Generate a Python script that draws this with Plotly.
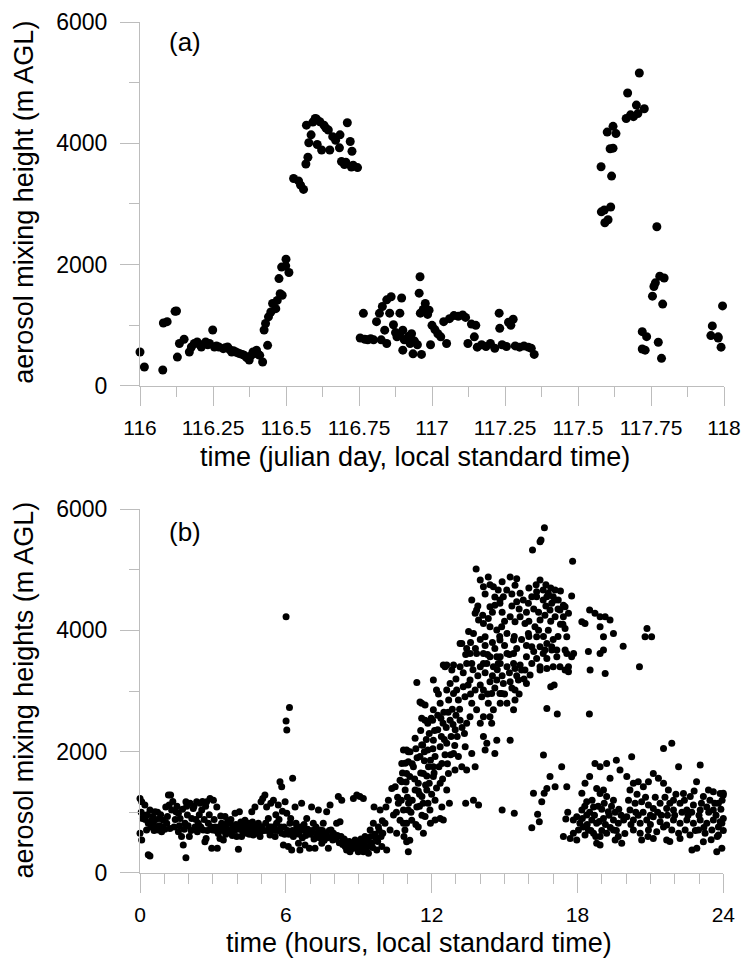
import plotly.graph_objects as go

# ---------------- panel (a): julian day vs aerosol mixing height ----------------
a_day116 = [
    (116.000, 560), (116.015, 313), (116.078, 264), (116.080, 1038), (116.093, 1060),
    (116.120, 1230), (116.125, 1236), (116.128, 476), (116.135, 700), (116.151, 770),
    (116.169, 560), (116.176, 643), (116.186, 700), (116.196, 725), (116.205, 680),
    (116.210, 643), (116.225, 725), (116.232, 680), (116.238, 700), (116.249, 923),
    (116.255, 643), (116.262, 660), (116.270, 643), (116.285, 615), (116.292, 630),
    (116.300, 643), (116.307, 600), (116.314, 560), (116.320, 580), (116.328, 560),
    (116.335, 545), (116.342, 533), (116.350, 520), (116.357, 505), (116.365, 470),
    (116.374, 428), (116.380, 500), (116.387, 560), (116.393, 540), (116.399, 590),
    (116.405, 520), (116.410, 505), (116.420, 395), (116.425, 923), (116.430, 1030),
    (116.437, 670), (116.440, 1140), (116.448, 1220), (116.454, 1360), (116.465, 1275),
    (116.470, 1410), (116.476, 1770), (116.480, 1520), (116.485, 1960), (116.487, 1495),
    (116.499, 1980), (116.500, 2090), (116.510, 1870),
    (116.526, 3420), (116.543, 3380), (116.550, 3310), (116.560, 3240), (116.568, 3660),
    (116.575, 3770), (116.578, 4010), (116.570, 4300), (116.586, 4140), (116.592, 4350),
    (116.600, 4410), (116.605, 4400), (116.607, 3980), (116.616, 4356), (116.622, 3890),
    (116.630, 4300), (116.637, 4250), (116.645, 4220), (116.650, 3890), (116.660, 4110),
    (116.670, 4050), (116.683, 3925), (116.685, 4140), (116.690, 3700), (116.700, 3650),
    (116.705, 3690), (116.710, 4340), (116.720, 4030), (116.724, 3610), (116.726, 3870),
    (116.730, 3640), (116.745, 3600),
    (116.754, 790), (116.765, 1197), (116.770, 770), (116.780, 760), (116.790, 780),
    (116.800, 760), (116.810, 1060), (116.820, 1197), (116.826, 760), (116.830, 1310),
    (116.838, 920), (116.845, 1420), (116.845, 700), (116.855, 1200), (116.860, 1470),
    (116.868, 1010), (116.875, 880), (116.880, 810), (116.890, 860), (116.890, 1200),
    (116.896, 1450), (116.900, 920), (116.900, 590), (116.905, 760), (116.913, 770),
    (116.920, 820), (116.925, 700), (116.930, 860), (116.935, 530), (116.940, 740),
    (116.950, 680), (116.956, 1530), (116.959, 1800), (116.964, 520), (116.960, 1200),
    (116.970, 1260), (116.977, 1360), (116.985, 1180), (116.990, 1250), (116.995, 680),
]
a_day117 = [
    (117.000, 1000), (117.010, 930), (117.020, 860), (117.030, 810), (117.040, 1060),
    (117.050, 700), (117.060, 1110), (117.075, 1160), (117.090, 1150), (117.105, 1170),
    (117.115, 1130), (117.123, 700), (117.135, 1020), (117.145, 810), (117.150, 1000),
    (117.155, 640), (117.170, 680), (117.185, 650), (117.200, 700), (117.215, 620),
    (117.230, 1200), (117.232, 950), (117.240, 680), (117.255, 650), (117.262, 1050),
    (117.270, 1000), (117.278, 1100), (117.285, 660), (117.300, 640), (117.315, 660),
    (117.330, 640), (117.340, 620), (117.350, 520),
    (117.579, 3614), (117.580, 2870), (117.590, 2900), (117.592, 2690), (117.603, 2740),
    (117.600, 4185), (117.610, 3910), (117.612, 2950), (117.615, 3460), (117.620, 3920),
    (117.620, 4280), (117.630, 4160), (117.665, 4410), (117.670, 4830), (117.680, 4470),
    (117.690, 4440), (117.700, 4630), (117.705, 4490), (117.710, 5160), (117.727, 4570),
    (117.720, 895), (117.735, 813), (117.720, 610), (117.730, 590), (117.755, 1480),
    (117.760, 1640), (117.765, 1700), (117.770, 2625), (117.775, 720), (117.780, 1810),
    (117.786, 456), (117.790, 1350), (117.795, 1780),
    (117.955, 830), (117.960, 990), (117.980, 790), (117.980, 810), (117.990, 640),
    (117.995, 1320),
]

# ---------------- panel (b): hour of day vs aerosol mixing heights ----------------
b_night = [
    (0.00, 1230), (0.07, 1175), (0.00, 655), (0.07, 545), (0.10, 900), (0.20, 1120),
    (0.27, 710), (0.34, 820), (0.34, 300), (0.41, 280), (0.41, 1040), (0.48, 870),
    (0.55, 820), (0.62, 1010), (0.69, 760), (0.75, 710), (0.82, 900), (0.89, 680),
    (0.96, 870), (1.06, 1090), (1.17, 1285), (1.26, 1285), (1.10, 820), (1.23, 735),
    (1.30, 1040), (1.40, 760), (1.48, 1010), (1.58, 985), (1.58, 680), (1.65, 900),
    (1.71, 600), (1.78, 460), (1.85, 820), (1.89, 1175), (1.89, 253), (1.95, 955),
    (2.06, 1150), (2.03, 600), (2.13, 900), (2.19, 1065), (2.26, 760), (2.33, 1175),
    (2.40, 820), (2.47, 1150), (2.54, 1040), (2.60, 710), (2.67, 516), (2.72, 570),
    (2.74, 1175), (2.81, 820), (2.88, 1230), (2.95, 406), (2.99, 710),
    (3.02, 1200), (3.09, 760), (3.16, 1090), (3.18, 406), (3.22, 650), (3.29, 570),
    (3.36, 820), (3.43, 545), (3.50, 930), (3.57, 735), (3.63, 710), (3.70, 820),
    (3.77, 655), (3.84, 760), (3.91, 985), (3.98, 600),
    (4.05, 390), (4.09, 1010), (4.12, 760), (4.18, 600), (4.25, 710), (4.32, 870),
    (4.39, 655), (4.46, 820), (4.53, 710), (4.60, 1010), (4.66, 625), (4.73, 1090),
    (4.80, 655), (4.87, 820), (4.94, 600), (4.98, 1175),
    (5.05, 1230), (5.14, 1285), (5.21, 1090), (5.28, 900), (5.35, 625), (5.42, 760),
    (5.49, 1200), (5.56, 600), (5.62, 820), (5.69, 1120), (5.76, 1505), (5.83, 1420),
    (5.83, 655), (5.90, 460), (5.93, 760), (5.97, 1175),
    (6.01, 4224), (6.01, 2505), (6.04, 2356), (6.15, 2730), (6.28, 1560), (6.04, 985),
    (6.10, 435), (6.17, 820), (6.24, 380), (6.31, 600), (6.38, 1090), (6.45, 760),
    (6.52, 490), (6.58, 380), (6.65, 1150), (6.72, 710), (6.79, 460), (6.86, 900),
    (6.93, 655), (6.97, 406),
    (7.06, 1090), (7.13, 820), (7.20, 406), (7.27, 600), (7.34, 1040), (7.41, 710),
    (7.48, 490), (7.54, 820), (7.61, 600), (7.68, 1010), (7.75, 406), (7.82, 1120),
    (7.86, 710), (7.93, 545), (7.96, 655),
    (8.09, 820), (8.16, 1260), (8.23, 845), (8.30, 1200), (8.37, 545), (8.44, 435),
    (8.50, 380), (8.57, 490), (8.64, 350), (8.71, 460), (8.78, 406), (8.85, 545),
    (8.92, 1285), (8.98, 350), (8.78, 1230), (9.05, 1260), (9.19, 1230),
    (9.05, 380), (9.12, 490), (9.19, 350), (9.26, 600), (9.33, 435), (9.40, 325),
    (9.47, 710), (9.53, 490), (9.60, 820), (9.63, 1090), (9.71, 570), (9.74, 380),
    (9.81, 760), (9.88, 1040), (9.95, 435), (9.99, 655),
    (0.05, 1000), (0.15, 950), (0.22, 880), (0.30, 960), (0.45, 760), (0.52, 930),
    (0.58, 700), (0.65, 880), (0.72, 1000), (0.80, 780), (0.85, 960), (0.93, 760),
    (1.02, 720), (1.13, 930), (1.20, 1120), (1.35, 1180), (1.45, 880), (1.52, 1100),
    (1.62, 780), (1.75, 1050), (1.82, 720), (1.92, 1100), (1.98, 780),
    (2.10, 700), (2.22, 1100), (2.30, 880), (2.36, 680), (2.44, 960), (2.50, 760),
    (2.57, 1180), (2.64, 880), (2.70, 1100), (2.77, 700), (2.85, 960), (2.92, 760),
    (3.05, 880), (3.12, 700), (3.25, 760), (3.32, 940), (3.40, 700), (3.46, 780),
    (3.53, 640), (3.60, 840), (3.67, 700), (3.74, 880), (3.80, 620), (3.88, 700),
    (3.95, 800), (4.02, 720), (4.15, 840), (4.22, 680), (4.28, 780), (4.35, 720),
    (4.42, 760), (4.50, 640), (4.56, 760), (4.63, 840), (4.70, 700), (4.76, 760),
    (4.84, 700), (4.90, 760), (4.96, 680), (5.02, 760), (5.10, 700), (5.17, 820),
    (5.24, 700), (5.32, 760), (5.38, 1150), (5.45, 700), (5.52, 760), (5.59, 960),
    (5.66, 700), (5.72, 880), (5.79, 760), (5.86, 1020), (5.95, 640),
    (6.07, 700), (6.13, 640), (6.20, 900), (6.27, 700), (6.35, 640), (6.42, 820),
    (6.48, 680), (6.55, 640), (6.62, 760), (6.68, 580), (6.75, 800), (6.82, 620),
    (6.90, 720), (7.02, 640), (7.09, 700), (7.16, 560), (7.24, 760), (7.30, 660),
    (7.38, 580), (7.44, 640), (7.51, 700), (7.58, 540), (7.65, 640), (7.72, 580),
    (7.79, 700), (7.89, 600), (7.99, 580), (8.05, 560), (8.12, 620), (8.20, 500),
    (8.27, 600), (8.34, 470), (8.40, 560), (8.47, 520), (8.54, 420), (8.61, 520),
    (8.68, 400), (8.75, 500), (8.82, 440), (8.88, 520), (8.95, 420), (9.02, 450),
    (9.09, 560), (9.16, 420), (9.22, 520), (9.30, 400), (9.36, 540), (9.44, 440),
    (9.50, 600), (9.57, 420), (9.66, 640), (9.78, 520), (9.84, 700), (9.92, 600),
    (9.97, 860),
]
b_morning = [
    (10.08, 820), (10.12, 1090), (10.15, 380), (10.22, 1200), (10.29, 710), (10.36, 1395),
    (10.43, 955), (10.50, 1420), (10.56, 655), (10.63, 1150), (10.70, 870), (10.77, 1505),
    (10.84, 1040), (10.91, 1810), (10.97, 516), (11.04, 350), (10.97, 820), (11.04, 1835),
    (10.91, 1370), (10.86, 600), (10.90, 710), (11.10, 540), (10.70, 1530), (10.84, 2027),
    (11.04, 2000), (10.77, 1807), (11.10, 1590), (11.25, 1750), (11.32, 1370), (11.39, 1090),
    (11.45, 1480), (11.52, 1920), (11.60, 1260), (11.66, 1640), (11.73, 930), (11.80, 1370),
    (11.87, 1750), (11.93, 1040), (11.63, 2110), (10.84, 820), (11.04, 1040), (11.18, 870),
    (11.45, 760), (11.66, 655), (10.97, 1640), (11.90, 1480), (11.95, 820),
    (11.39, 3140), (11.52, 2820), (11.73, 2770), (11.59, 2550), (11.73, 2520), (11.32, 2220),
    (11.59, 2110), (10.97, 2027), (11.11, 2000),
    (12.07, 3180), (12.20, 3015), (11.59, 2800), (12.07, 2690), (12.35, 2800), (12.62, 3015),
    (12.76, 3125), (12.90, 2960), (12.55, 3400), (12.83, 3345), (13.03, 3015), (11.84, 2470),
    (12.04, 2520), (12.25, 2360), (12.47, 2470), (12.76, 2520), (12.97, 2360), (12.07, 2190),
    (12.35, 2080), (12.62, 2140), (12.90, 1970), (13.10, 1920), (12.14, 1920), (12.42, 1807),
    (12.69, 1640), (12.96, 1700), (13.24, 1750), (12.07, 1590), (12.35, 1480), (12.62, 1370),
    (12.14, 1200), (12.42, 1090), (12.73, 1150), (12.35, 900), (12.48, 873), (12.14, 873),
    (12.07, 1750), (11.84, 2027), (11.95, 1860), (13.44, 1700), (13.79, 1750), (13.40, 1150),
    (13.72, 1200), (13.93, 1120), (13.38, 2080), (13.65, 1970), (14.13, 2250), (14.27, 2140),
    (14.68, 2190), (15.23, 2190), (14.60, 1970), (14.20, 2027), (14.90, 1040), (15.40, 985),
    (11.20, 1200), (11.30, 1550), (11.40, 1900), (11.50, 1100), (11.55, 1650), (11.70, 2000),
    (11.75, 1450), (11.85, 1150), (11.90, 2300), (12.00, 1300), (12.05, 2050), (12.10, 1650),
    (12.20, 1400), (12.25, 2600), (12.30, 1750), (12.40, 2250), (12.45, 1550), (12.50, 2650),
    (12.55, 1950), (12.60, 2400), (12.65, 1800), (12.70, 2850), (12.80, 2250), (12.85, 2700),
    (12.95, 2100), (13.00, 2600), (11.00, 1250), (11.15, 1000), (11.35, 800), (11.50, 1300),
    (11.60, 950), (11.65, 1150), (11.80, 1600), (10.60, 1250), (10.55, 1000), (10.75, 1200),
    (10.80, 1650), (10.95, 1500), (11.05, 1150), (11.20, 1800), (11.35, 2050), (11.45, 1350),
    (11.55, 2350), (11.70, 1850), (11.78, 2200), (11.98, 2550), (12.12, 2350), (12.28, 2950),
    (12.38, 2550), (12.52, 2200), (12.68, 2650), (12.78, 1950), (12.88, 2450), (13.05, 2250),
    (13.15, 2700), (13.25, 2400), (13.35, 2300),
]
b_afternoon = [
    (13.17, 2520), (13.44, 2470), (13.58, 2575), (13.85, 2690), (14.00, 2470), (14.13, 2575),
    (14.40, 2575), (14.54, 2690), (14.47, 2470), (14.82, 2800), (14.88, 2960), (15.10, 2800),
    (15.37, 2690), (15.43, 2850), (13.37, 2905), (13.65, 2800), (14.06, 2905), (14.33, 2800),
    (14.47, 2960), (14.81, 2960), (13.30, 3070), (13.58, 3180), (13.79, 3015), (14.13, 3015),
    (14.40, 3153), (14.68, 3180), (14.95, 3125), (15.23, 3153), (15.57, 3180), (15.90, 3125),
    (15.70, 3345), (15.43, 3373), (15.84, 3345), (12.48, 3428), (12.62, 3428), (12.90, 3428),
    (13.17, 3400), (13.44, 3455), (13.65, 3455), (14.00, 3400), (14.27, 3455), (14.54, 3400),
    (14.82, 3455), (15.10, 3400), (15.37, 3455), (15.64, 3428), (16.12, 3455), (16.46, 3400),
    (16.74, 3373), (17.00, 3400), (17.28, 3400), (17.49, 3345), (17.63, 3400), (16.46, 3345),
    (16.05, 3263), (16.90, 3070), (17.04, 3100), (15.43, 3015), (16.32, 3537), (16.74, 3537),
    (17.15, 3565), (17.56, 3620), (17.76, 3565), (17.63, 3318), (16.94, 3675), (16.66, 3675),
    (16.59, 3620), (13.24, 3785), (13.44, 3700), (13.58, 3620), (13.85, 3620), (14.13, 3455),
    (14.82, 3565), (15.10, 3620), (15.37, 3620), (14.13, 3620), (14.40, 3565), (14.68, 3565),
    (14.74, 3455), (15.90, 3565), (16.12, 3730), (16.32, 3895), (16.46, 3730), (16.74, 3785),
    (16.94, 3730), (17.15, 3675), (17.49, 3675), (17.84, 3620),
    (13.65, 4500), (13.85, 4335), (13.79, 4280), (13.93, 4170), (14.13, 4115), (14.33, 4195),
    (14.40, 4060), (14.68, 4005), (14.88, 4060), (14.81, 3840), (15.10, 3950), (15.37, 3840),
    (15.23, 4225), (15.43, 4140), (15.64, 4225), (15.84, 4115), (15.98, 3950), (16.25, 4060),
    (16.46, 4170), (16.66, 4250), (16.87, 4335), (17.08, 4225), (17.42, 4225), (17.49, 4030),
    (17.56, 3895), (13.72, 3950), (13.52, 3980), (13.17, 3785), (14.20, 3895), (14.40, 4390),
    (14.60, 4415), (14.81, 4445), (15.50, 4470), (15.77, 4500), (15.98, 4445), (16.12, 4555),
    (16.32, 4555), (16.59, 4500), (16.74, 4555), (16.94, 4445), (17.08, 4500), (17.28, 4335),
    (17.42, 4415), (17.63, 4280), (14.00, 4830), (14.13, 4720), (14.33, 4880), (14.54, 4720),
    (14.74, 4665), (14.81, 4500), (15.09, 4665), (14.95, 4555), (15.23, 4880), (15.43, 4745),
    (15.64, 4610), (16.46, 4830), (16.32, 4635), (16.59, 4665), (16.80, 4610), (17.00, 4555),
    (17.21, 4500), (17.08, 4665), (17.49, 4390), (17.76, 4565), (13.83, 5010), (16.64, 5690),
    (16.46, 5460), (16.50, 5490), (16.15, 5323), (17.80, 5141),
    (18.18, 4140), (18.31, 4115), (18.50, 4335), (18.72, 4280), (18.93, 4225), (19.14, 4225),
    (19.34, 4170), (18.93, 4060), (19.07, 3895), (19.48, 3950), (18.45, 3650), (18.93, 3620),
    (19.07, 3675), (19.88, 3740), (20.55, 3400), (18.52, 3345), (19.14, 3290), (20.86, 4030),
    (20.78, 3895), (21.05, 3895), (16.74, 2713), (17.17, 2620), (18.49, 2620),
    (13.00, 3200), (13.10, 2850), (13.30, 3300), (13.50, 3100), (13.60, 2950), (13.70, 3350),
    (13.90, 3250), (14.00, 3100), (14.20, 3300), (14.30, 2950), (14.50, 3250), (14.60, 3050),
    (14.70, 3350), (14.90, 3250), (15.00, 2950), (15.20, 3300), (15.30, 3050), (15.50, 3250),
    (15.60, 2950), (15.80, 3200), (13.40, 3600), (13.60, 3800), (13.80, 3700), (14.00, 3850),
    (14.20, 3750), (14.30, 3600), (14.50, 3800), (14.60, 3700), (14.80, 3900), (15.00, 3750),
    (15.20, 3600), (15.40, 3900), (15.50, 3700), (15.70, 3850), (15.90, 3750), (16.00, 3900),
    (16.20, 3650), (16.40, 4000), (16.60, 3900), (16.80, 4000), (17.00, 3850), (17.20, 3900),
    (17.30, 4100), (13.90, 4400), (14.10, 4250), (14.20, 4600), (14.50, 4300), (14.60, 4550),
    (14.90, 4300), (15.00, 4150), (15.30, 4400), (15.60, 4350), (15.90, 4300), (16.00, 4150),
    (16.20, 4350), (16.40, 4300), (16.70, 4400), (16.90, 4150), (17.20, 4350), (17.40, 4100),
    (14.40, 4750), (14.90, 4800), (15.30, 4600), (15.50, 4850), (16.00, 4700), (16.30, 4750),
    (16.70, 4750), (16.90, 4700), (17.30, 4650),
]
b_evening = [
    (16.60, 1945), (17.35, 1750), (16.87, 1590), (17.08, 1420), (17.56, 1420), (16.74, 1395),
    (16.63, 1313), (16.19, 1313), (16.53, 1175), (16.36, 970), (16.43, 846), (16.12, 747),
    (17.52, 890), (17.42, 600), (17.70, 570), (17.83, 873), (17.97, 928),
    (18.18, 1313), (18.31, 1480), (18.50, 1590), (18.72, 1807), (18.93, 1750), (19.20, 1807),
    (19.60, 1860), (19.75, 1700), (19.34, 1560), (19.07, 1370), (18.79, 1395), (18.93, 1310),
    (19.20, 1260), (19.48, 1200), (18.38, 1175), (18.66, 1090), (18.18, 1040), (18.38, 955),
    (18.59, 873), (18.79, 820), (19.07, 900), (19.27, 1010), (19.48, 873), (19.68, 820),
    (19.90, 873), (18.24, 760), (18.45, 710), (18.66, 655), (18.93, 600), (19.20, 655),
    (19.48, 710), (19.68, 600), (19.82, 490), (18.93, 460), (18.79, 490), (18.31, 625),
    (17.83, 655), (17.97, 545), (18.10, 820), (18.04, 710), (19.55, 545),
    (20.23, 1917), (20.03, 1590), (20.16, 1370), (20.30, 1480), (20.50, 1505), (20.71, 1420),
    (20.92, 1505), (21.12, 1640), (21.33, 1560), (21.54, 1480), (21.74, 1370), (21.95, 1200),
    (22.16, 1750), (22.36, 1310), (22.64, 1260), (23.05, 1780), (22.90, 1505), (23.18, 1260),
    (23.39, 1370), (23.59, 1340), (23.87, 1310), (24.00, 1285), (23.80, 1150), (23.59, 1040),
    (23.32, 1090), (23.05, 1040), (22.77, 1120), (22.50, 1040), (22.22, 1150), (21.95, 1040),
    (21.67, 1065), (21.40, 1150), (21.12, 1065), (20.92, 1120), (20.64, 1175), (20.37, 1150),
    (20.16, 1040), (20.03, 928), (20.30, 873), (20.58, 820), (20.85, 873), (21.12, 928),
    (21.40, 846), (21.67, 790), (21.95, 873), (22.22, 820), (22.50, 873), (22.77, 820),
    (23.05, 873), (23.32, 820), (23.59, 873), (23.87, 846), (20.30, 710), (20.58, 655),
    (20.92, 710), (21.26, 680), (21.54, 760), (21.88, 710), (22.16, 655), (22.43, 710),
    (22.63, 625), (22.98, 710), (23.25, 655), (23.53, 710), (23.80, 760), (23.94, 820),
    (20.64, 545), (21.12, 570), (21.67, 545), (22.22, 570), (22.71, 380), (22.91, 406),
    (23.18, 516), (23.73, 350), (23.94, 406), (23.80, 625), (21.54, 2054), (21.88, 2137),
    (24.00, 1313),
    (18.20, 900), (18.30, 1100), (18.40, 800), (18.50, 1000), (18.55, 700), (18.60, 1200),
    (18.70, 950), (18.75, 600), (18.85, 1100), (18.90, 850), (19.00, 1050), (19.00, 700),
    (19.10, 1150), (19.15, 800), (19.30, 950), (19.35, 750), (19.40, 1100), (19.55, 1000),
    (19.60, 700), (19.70, 1050), (19.80, 950), (20.10, 1200), (20.20, 800), (20.40, 1000),
    (20.45, 1300), (20.50, 950), (20.70, 1000), (20.80, 1250), (21.00, 950), (21.00, 800),
    (21.20, 1250), (21.30, 1000), (21.45, 950), (21.60, 1250), (21.70, 950), (21.80, 1150),
    (22.00, 950), (22.05, 1300), (22.30, 1000), (22.40, 1200), (22.55, 950), (22.70, 1000),
    (22.80, 1350), (22.85, 700), (23.00, 950), (23.10, 1150), (23.20, 750), (23.40, 1000),
    (23.45, 1200), (23.50, 550), (23.65, 1150), (23.70, 950), (23.75, 600), (23.90, 1050),
    (23.95, 1200), (24.00, 900), (24.00, 700), (21.80, 520), (20.90, 600), (19.95, 650),
    (17.60, 1000),
]

a_ticks = [116, 116.25, 116.5, 116.75, 117, 117.25, 117.5, 117.75, 118]
a_ticktext = ["116", "116.25", "116.5", "116.75", "117", "117.25", "117.5", "117.75", "118"]
b_ticks = [0, 6, 12, 18, 24]
b_ticktext = ["0", "6", "12", "18", "24"]
y_ticks = [0, 2000, 4000, 6000]
y_ticktext = ["0", "2000", "4000", "6000"]

a_pts = a_day116 + a_day117
b_pts = b_night + b_morning + b_afternoon + b_evening

FONT = "Liberation Sans, Arial, sans-serif"
AX = "#bdbdbd"

fig = go.Figure()
fig.add_trace(go.Scatter(
    x=[p[0] for p in a_pts], y=[p[1] for p in a_pts], mode="markers",
    marker=dict(color="black", size=9, line=dict(width=0)),
    cliponaxis=False, xaxis="x", yaxis="y", showlegend=False, hoverinfo="skip"))
fig.add_trace(go.Scatter(
    x=[p[0] for p in b_pts], y=[p[1] for p in b_pts], mode="markers",
    marker=dict(color="black", size=7, line=dict(width=0)),
    cliponaxis=False, xaxis="x2", yaxis="y2", showlegend=False, hoverinfo="skip"))


def axis_style(tsize, standoff, **kw):
    d = dict(showline=True, linecolor=AX, linewidth=1, ticks="outside", ticklen=19,
             tickcolor=AX, tickwidth=1, showgrid=False, zeroline=False,
             tickfont=dict(family=FONT, size=tsize, color="black"),
             ticklabelstandoff=standoff, automargin=False)
    d.update(kw)
    return d


def minor(step, start):
    return dict(ticks="outside", ticklen=10, tickcolor=AX, tickwidth=1,
                dtick=step, tick0=start, showgrid=False)


fig.update_layout(
    width=742, height=959,
    margin=dict(l=140, r=18, t=22, b=86),
    paper_bgcolor="white", plot_bgcolor="white",
    font=dict(family=FONT, color="black"),
    hovermode=False,
    xaxis=axis_style(21, 4, domain=[0, 1], anchor="y", range=[116, 118], tickmode="array",
                     tickvals=a_ticks, ticktext=a_ticktext, minor=minor(0.125, 116)),
    yaxis=axis_style(23, 8, domain=[0.5723, 1], anchor="x", range=[0, 6000], tickmode="array",
                     tickvals=y_ticks, ticktext=y_ticktext, minor=minor(1000, 0)),
    xaxis2=axis_style(21, 4, domain=[0, 0.9988], anchor="y2", range=[0, 24], tickmode="array",
                      tickvals=b_ticks, ticktext=b_ticktext, minor=minor(1, 0)),
    yaxis2=axis_style(23, 8, domain=[0, 0.4277], anchor="x2", range=[0, 6000], tickmode="array",
                      tickvals=y_ticks, ticktext=y_ticktext, minor=minor(1000, 0)),
)

TF = dict(family=FONT, size=27, color="black")
LF = dict(family=FONT, size=26, color="black")
fig.add_annotation(text="(a)", x=0.0779, y=0.9765, xref="paper", yref="paper",
                   showarrow=False, font=LF, xanchor="center", yanchor="middle")
fig.add_annotation(text="(b)", x=0.0779, y=0.4007, xref="paper", yref="paper",
                   showarrow=False, font=LF, xanchor="center", yanchor="middle")
fig.add_annotation(text="time (julian day, local standard time)", x=0.4709, y=0.489,
                   xref="paper", yref="paper", showarrow=False, font=TF,
                   xanchor="center", yanchor="middle")
fig.add_annotation(text="time (hours, local standard time)", x=0.4777, y=-0.1005,
                   xref="paper", yref="paper", showarrow=False, font=TF,
                   xanchor="center", yanchor="bottom", borderpad=0)
fig.add_annotation(text="aerosol mixing height (m AGL)", x=-0.198, y=0.788,
                   xref="paper", yref="paper", showarrow=False, font=TF, textangle=-90,
                   xanchor="center", yanchor="middle")
fig.add_annotation(text="aerosol mixing heights (m AGL)", x=-0.198, y=0.215,
                   xref="paper", yref="paper", showarrow=False, font=TF, textangle=-90,
                   xanchor="center", yanchor="middle")

# the page's default 8px body margin would shift the figure; remove it
fig.write_html("out.html", config={"displayModeBar": False},
               post_script="document.body.style.margin='0';document.body.style.padding='0';")
